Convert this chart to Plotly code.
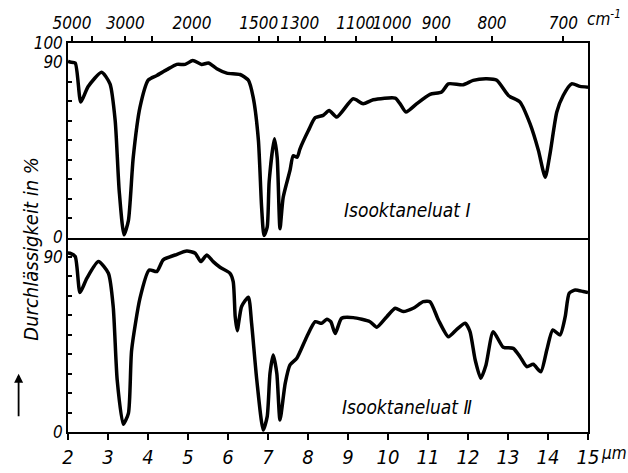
import plotly.graph_objects as go

# Wavelength (µm) and transmittance (%) of the two isooctane eluates
wl_1 = [2.0, 2.05, 2.18, 2.32, 2.5, 2.84, 3.05, 3.18, 3.28, 3.40, 3.51, 3.63, 3.80, 4.01, 4.22,
        4.47, 4.72, 4.93, 5.12, 5.34, 5.51, 5.72, 5.97, 6.30, 6.51, 6.63, 6.76, 6.84, 6.90,
        6.98, 7.03, 7.16, 7.23, 7.30, 7.38, 7.55, 7.63, 7.73, 7.80, 8.01, 8.18, 8.38, 8.53,
        8.72, 9.13, 9.38, 9.63, 10.18, 10.30, 10.45, 10.72, 11.05, 11.34, 11.51, 11.88,
        12.13, 12.47, 12.72, 13.01, 13.30, 13.55, 13.76, 13.93, 14.05, 14.22, 14.38, 14.59,
        14.80, 15.0]
tr_1 = [90.5, 90.2, 89.7, 69.6, 77.5, 85.0, 79.0, 60.0, 24.0, 1.4, 8.7, 41.0, 67.0, 81.0, 83.3,
        86.3, 89.0, 89.0, 91.0, 89.0, 89.7, 86.8, 84.5, 83.8, 80.8, 72.0, 50.0, 15.6, 1.0,
        5.3, 29.0, 50.8, 41.0, 4.5, 20.7, 34.5, 42.0, 41.3, 45.6, 55.0, 61.6, 62.8, 65.3,
        61.9, 71.3, 68.8, 70.8, 71.7, 68.8, 64.5, 68.8, 73.6, 74.8, 79.0, 78.5,
        80.8, 81.6, 80.8, 73.0, 69.6, 58.5, 44.8, 31.0, 43.0, 64.5, 73.0, 79.0,
        77.7, 77.3]

wl_2 = [2.0, 2.05, 2.18, 2.30, 2.47, 2.76, 3.01, 3.13, 3.23, 3.38, 3.51, 3.59, 3.80, 4.03, 4.22,
        4.38, 4.68, 4.97, 5.18, 5.32, 5.47, 5.63, 5.80, 6.05, 6.13, 6.18, 6.23, 6.34, 6.51,
        6.59, 6.72, 6.88, 6.98, 7.05, 7.13, 7.22, 7.30, 7.43, 7.55, 7.72, 7.97, 8.18, 8.34,
        8.47, 8.57, 8.68, 8.84, 9.13, 9.55, 9.72, 9.97, 10.18, 10.38, 10.63, 10.88, 11.05,
        11.26, 11.51, 11.72, 11.93, 12.05, 12.18, 12.32, 12.45, 12.63, 12.88, 13.13, 13.30,
        13.47, 13.63, 13.82, 13.97, 14.12, 14.30, 14.43, 14.53, 14.68, 14.88, 15.0]
tr_2 = [92.0, 91.9, 90.2, 71.7, 79.0, 87.6, 81.6, 64.5, 26.7, 4.0, 9.6, 42.0, 68.8, 83.3, 82.5,
        88.5, 91.0, 93.0, 91.9, 87.6, 91.0, 87.6, 84.7, 81.6, 77.3, 59.3, 52.1, 64.5, 69.3,
        55.9, 26.7, 1.0, 7.9, 30.2, 39.6, 30.2, 6.2, 25.0, 34.5, 37.9, 49.0, 56.7, 55.9,
        58.0, 56.7, 50.6, 58.5, 58.8, 56.7, 53.9, 59.3, 63.6, 61.9, 63.6, 67.0, 67.0,
        57.6, 49.0, 52.8, 55.9, 51.6, 37.0, 27.6, 34.5, 51.6, 43.6, 43.0, 38.7,
        33.6, 34.8, 31.0, 42.2, 52.5, 49.9, 59.3, 71.3, 73.0, 72.2, 71.7]

um_ticks = list(range(2, 16))
wn_ticks = [5000, 4000, 3000, 2500, 2000, 1500, 1400, 1300, 1200, 1100, 1000, 900, 800, 700]
wn_labels = [5000, 3000, 2000, 1500, 1300, 1100, 1000, 900, 800, 700]
pct_ticks = list(range(0, 101, 10))

FONT = "Liberation Sans Narrow, DejaVu Sans Condensed, Liberation Sans, sans-serif"
ink = "black"

fig = go.Figure()
fig.add_trace(go.Scatter(x=wl_1, y=tr_1, xaxis="x2", yaxis="y", mode="lines",
                         line=dict(color=ink, width=3.5, shape="spline", smoothing=0.6)))
fig.add_trace(go.Scatter(x=wl_2, y=tr_2, xaxis="x", yaxis="y2", mode="lines",
                         line=dict(color=ink, width=3.5, shape="spline", smoothing=0.6)))

tickfont = dict(family=FONT, size=20, color=ink, style="italic")
yfont = dict(family=FONT, size=17, color=ink, style="italic")

fig.update_layout(
    width=628, height=473,
    margin=dict(l=68, r=40, t=43, b=41, autoexpand=False),
    paper_bgcolor="white", plot_bgcolor="white",
    showlegend=False,
    xaxis=dict(range=[2, 15], anchor="y2", domain=[0, 1], automargin=False,
               tickmode="array", tickvals=um_ticks, ticks="outside", ticklen=6,
               tickwidth=1.5, tickcolor=ink, tickfont=tickfont, tickangle=0,
               showline=True, linecolor=ink, linewidth=1.5, mirror=False,
               showgrid=False, zeroline=False),
    xaxis2=dict(range=[2, 15], anchor="y", matches="x", showticklabels=False,
                ticks="", showline=True, linecolor=ink, linewidth=1.5, mirror=True,
                showgrid=False, zeroline=False, automargin=False),
    # wavenumber scale as printed above the frame
    xaxis3=dict(range=[1.9, 14.9], anchor="y", overlaying="x2", side="top",
                automargin=False, tickangle=0,
                tickmode="array", tickvals=[1e4 / w for w in wn_ticks],
                ticktext=[str(w) if w in wn_labels else "" for w in wn_ticks],
                ticks="outside", ticklen=6, tickwidth=1.5, tickcolor=ink,
                tickfont=dict(family=FONT, size=17, color=ink, style="italic"),
                showline=False, showgrid=False, zeroline=False),
    yaxis=dict(range=[0, 100], domain=[0.5, 1], anchor="x2", automargin=False,
               tickmode="array", tickvals=pct_ticks,
               ticktext=["0"] + [""] * 8 + ["90", "100"],
               ticks="inside", ticklen=4, tickwidth=1.5, tickcolor=ink, tickfont=yfont,
               showline=True, linecolor=ink, linewidth=1.5, mirror=True,
               showgrid=False, zeroline=False),
    yaxis2=dict(range=[0, 100], domain=[0, 0.5], anchor="x", automargin=False,
                tickmode="array", tickvals=pct_ticks,
                ticktext=["0"] + [""] * 8 + ["90", ""],
                ticks="inside", ticklen=4, tickwidth=1.5, tickcolor=ink, tickfont=yfont,
                showline=True, linecolor=ink, linewidth=1.5, mirror=True,
                showgrid=False, zeroline=False),
)

# An empty trace so the wavenumber axis is drawn
fig.add_trace(go.Scatter(x=[2, 15], y=[None, None], xaxis="x3", yaxis="y",
                         mode="lines", hoverinfo="skip"))

label_font = dict(family=FONT, size=19, color=ink, style="italic")
fig.add_annotation(x=8.85, y=14, xref="x2", yref="y", text="Isooktaneluat Ⅰ",
                   showarrow=False, xanchor="left", font=label_font)
fig.add_annotation(x=8.8, y=13, xref="x", yref="y2", text="Isooktaneluat Ⅱ",
                   showarrow=False, xanchor="left", font=label_font)

# Unit labels
fig.add_annotation(x=1.0, y=0.0, xref="paper", yref="paper", text="µm",
                   showarrow=False, xanchor="left", yanchor="top", xshift=11, yshift=-9,
                   font=dict(family=FONT, size=17, color=ink, style="italic"))
fig.add_annotation(x=1.0, y=1.0, xref="paper", yref="paper", text="cm<sup>-1</sup>",
                   showarrow=False, xanchor="left", yanchor="bottom", xshift=-3, yshift=12,
                   font=dict(family=FONT, size=17, color=ink, style="italic"))

# Ordinate title with upward arrow
fig.add_annotation(x=-0.097, y=0.47, xref="paper", yref="paper", text="Durchlässigkeit in %",
                   textangle=-90, showarrow=False,
                   font=dict(family=FONT, size=20, color=ink, style="italic"))
fig.add_annotation(x=-0.095, y=0.15, xref="paper", yref="paper", text="",
                   showarrow=True, arrowhead=2, arrowsize=1.0, arrowwidth=1.8,
                   arrowcolor=ink, ax=0, ay=44, standoff=0)

fig.write_html("out.html")
